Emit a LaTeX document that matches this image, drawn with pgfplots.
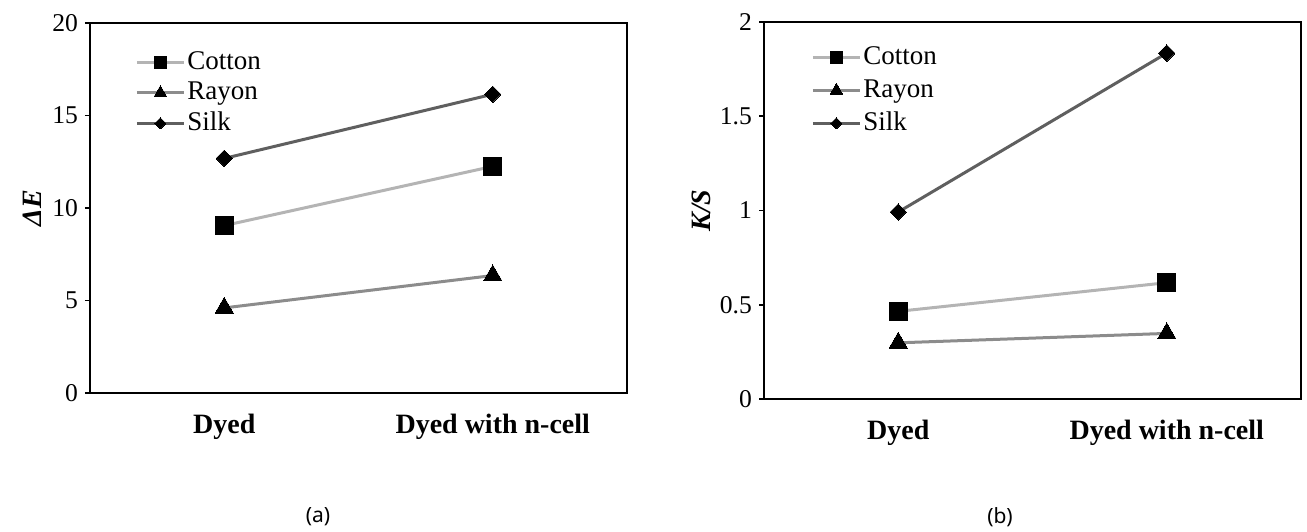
\documentclass[border=0pt]{standalone}
\usepackage{fontspec}
\setmainfont{Liberation Serif}
\newfontfamily\capfont{Noto Sans}
\usepackage{pgfplots}
\pgfplotsset{compat=1.18}

\definecolor{cottonc}{HTML}{B4B4B4}
\definecolor{rayonc}{HTML}{8C8C8C}
\definecolor{silkc}{HTML}{5F5F5F}

% x: 0 = Dyed, 1 = Dyed with n-cell
\pgfplotstableread{
x cotton rayon silk
0 9.05  4.6  12.68
1 12.25 6.35 16.15
}\deltaE
\pgfplotstableread{
x cotton rayon silk
0 0.465 0.298 0.992
1 0.617 0.348 1.835
}\ks

\pgfplotsset{
  panel/.style={
    scale only axis,
    width=268.5pt,
    xmin=-0.5, xmax=1.5, ymin=0,
    axis line style={line width=1pt},
    xtick={0,1},
    xticklabels={Dyed,Dyed with n-cell},
    major x tick style={draw=none},
    xtick pos=bottom, ytick pos=left,
    tick align=outside,
    major tick length=2.5pt,
    tick style={line width=0.8pt, black},
    xticklabel style={font=\fontsize{14pt}{16pt}\selectfont\bfseries, anchor=center, yshift=-14.5pt},
    yticklabel style={font=\fontsize{12.8pt}{15pt}\selectfont},
    /pgf/number format/assume math mode=true,
    ylabel style={font=\fontsize{14pt}{16pt}\selectfont\bfseries\itshape, at={(rel axis cs:0,0.5)}, anchor=center},
    legend cell align=left,
    legend style={draw=none, fill=none, inner sep=0pt, column sep=0pt,
      font=\fontsize{13.5pt}{15pt}\selectfont,
      nodes={inner sep=1pt, text height=9.5pt, text depth=2.5pt}},
    legend image code/.code={
      \draw[mark repeat=2, mark phase=2, #1] plot coordinates {(0pt,0pt) (11.75pt,0pt) (23.5pt,0pt)};},
    legend image post style={/tikz/every mark/.append style={scale=0.68}},
  },
  cot/.style={color=cottonc, line width=1.5pt, mark=square*, mark size=4.5pt, mark options={fill=black, draw=black, line width=0pt}},
  ray/.style={color=rayonc, line width=1.5pt, mark=triangle*, mark size=5.3pt, mark options={fill=black, draw=black, line width=0pt}},
  sil/.style={color=silkc, line width=1.5pt, mark=square*, mark size=2.9pt, mark options={fill=black, draw=black, line width=0pt, rotate=45}},
}

\begin{document}
\begin{tikzpicture}
\useasboundingbox (0,0) rectangle (653.5pt,265.5pt);

% (a) colour difference
\begin{axis}[panel,
  at={(45pt,69pt)}, anchor=south west,
  height=185pt,
  ymax=20, ytick={0,5,...,20},
  ylabel={ΔE}, ylabel style={yshift=29pt},
  extra x ticks={0.5}, extra x tick labels={},
  extra x tick style={major tick length=4pt, tick align=inside},
  legend style={at={(rel axis cs:0,1)}, anchor=north west, xshift=22.5pt, yshift=-12.5pt, row sep=1.25pt},
]
\addplot[cot] table[x=x, y=cotton] {\deltaE};
\addplot[ray] table[x=x, y=rayon] {\deltaE};
\addplot[sil] table[x=x, y=silk] {\deltaE};
\legend{Cotton,Rayon,Silk}
\end{axis}

% (b) K/S
\begin{axis}[panel,
  at={(382pt,66pt)}, anchor=south west,
  height=188.5pt,
  ymax=2, ytick={0,0.5,...,2},
  ylabel={K/S}, ylabel style={yshift=31.5pt},
  extra x ticks={-0.5,0.5,1.5}, extra x tick labels={},
  extra x tick style={major tick length=3pt, tick align=outside},
  legend style={at={(rel axis cs:0,1)}, anchor=north west, xshift=23.5pt, yshift=-10.5pt, row sep=2.5pt},
]
\addplot[cot] table[x=x, y=cotton] {\ks};
\addplot[ray] table[x=x, y=rayon] {\ks};
\addplot[sil] table[x=x, y=silk] {\ks};
\legend{Cotton,Rayon,Silk}
\end{axis}

\node[font=\capfont\fontsize{10.5pt}{12pt}\selectfont] at (159pt,7pt) {(a)};
\node[font=\capfont\fontsize{10.5pt}{12pt}\selectfont] at (500pt,7pt) {(b)};
\end{tikzpicture}
\end{document}
